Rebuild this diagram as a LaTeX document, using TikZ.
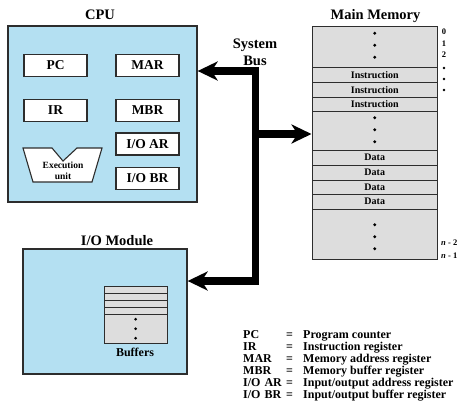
\documentclass[tikz,border=0pt]{standalone}
\usepackage{fontspec}
\setmainfont{Liberation Serif}
\usepackage{tikz}
\usetikzlibrary{arrows.meta, calc, matrix}

\definecolor{cpublue}{RGB}{180,224,242}
\definecolor{memgray}{RGB}{221,221,221}
\definecolor{edgegray}{RGB}{45,45,45}

\begin{document}
\begin{tikzpicture} [x=1pt, y=-1pt,
	box/.style={draw=edgegray, line width=1.3pt, fill=cpublue, inner sep=0pt},
	reg/.style={draw=edgegray, line width=1.1pt, fill=white, minimum width=63pt,
		minimum height=22pt, inner sep=0pt, font=\bfseries\fontsize{13.5}{15}\selectfont},
	title/.style={inner sep=0pt, font=\bfseries\fontsize{14.5}{17}\selectfont},
	cell/.style={draw=edgegray, line width=1.1pt, fill=memgray, inner sep=0pt,
		font=\bfseries\fontsize{10}{11}\selectfont},
	addr/.style={inner sep=0pt, font=\bfseries\fontsize{8.5}{9}\selectfont},
	keytext/.style={inner sep=0pt, text height=9pt, text depth=3pt,
		font=\bfseries\fontsize{12}{12}\selectfont},
	bus/.style={line width=7.5pt, line join=miter,
		{Stealth[length=20pt, width=19pt, inset=6pt]}-{Stealth[length=20pt, width=19pt, inset=6pt]}},
	busout/.style={line width=7.5pt, -{Stealth[length=20pt, width=19pt, inset=6pt]}}]
	%    frame of the picture
	\useasboundingbox (0,0) rectangle (468,418);
	
	% CPU
	\node[box, minimum width=189pt, minimum height=176pt] (cpu) at (102.5,114) {};
	\node[title] (cputitle) at (100,15) {CPU};
	\node[reg] (pc)   at (55.5,65.5)  {PC};
	\node[reg] (mar)  at (147.5,65.5) {MAR};
	\node[reg] (ir)   at (55.5,110.5) {IR};
	\node[reg] (mbr)  at (147.5,110.5) {MBR};
	\node[reg] (ioar) at (147.5,144)  {I/O AR};
	\node[reg] (iobr) at (147.5,178.5) {I/O BR};
	\draw[draw=edgegray, line width=1.1pt, fill=white] (23,148) -- (52,148) -- (63,161)
		-- (77,148) -- (102,148) -- (92,182) -- (33,182) -- cycle;
	\node[align=center, inner sep=0pt, font=\bfseries\fontsize{9.5}{11}\selectfont] (exec)
		at (63,171) {Execution\\unit};
	
	% I/O module
	\node[box, minimum width=164pt, minimum height=125pt] (io) at (105,311.5) {};
	\node[title] (iotitle) at (117,241) {I/O Module};
	\matrix(buf)[matrix of nodes, ampersand replacement=\&, anchor=north west,
		inner sep=0pt, row sep=-1pt, nodes in empty cells,
		nodes={cell, line width=1pt, minimum width=63pt, minimum height=7pt},
		row 5/.style={nodes={minimum height=29pt}}] at (103.5,285.5)
	{
		\\ \\ \\ \\ \\
	};
	\foreach \k in {-1,0,1}
		\fill ($(buf-5-1.center)+(0,\k*9.5)$) circle (1.5);
	\node[inner sep=0pt, font=\bfseries\fontsize{12}{13}\selectfont] (buftitle) at (135,352) {Buffers};
	
	% main memory
	\node[title] (memtitle) at (375.5,16) {Main Memory};
	\matrix(mem)[matrix of nodes, ampersand replacement=\&, anchor=north west,
		inner sep=0pt, row sep=-1.1pt, nodes in empty cells,
		nodes={cell, minimum width=125pt},
		row 1/.style={nodes={minimum height=41pt}},
		row 2/.style={nodes={minimum height=15pt}},
		row 3/.style={nodes={minimum height=15pt}},
		row 4/.style={nodes={minimum height=14pt}},
		row 5/.style={nodes={minimum height=39pt}},
		row 6/.style={nodes={minimum height=15pt}},
		row 7/.style={nodes={minimum height=15pt}},
		row 8/.style={nodes={minimum height=14pt}},
		row 9/.style={nodes={minimum height=15pt}},
		row 10/.style={nodes={minimum height=50pt}}] at (311.5,25.5)
	{
		\\
		Instruction \\
		Instruction \\
		Instruction \\
		\\
		Data \\
		Data \\
		Data \\
		Data \\
		\\
	};
	\foreach \r/\d in {1/-1.5, 5/-1, 10/2.5}
		\foreach \k in {-1,0,1}
			\fill ($(mem-\r-1.center)+(0,\k*12+\d)$) circle (1.7);
	
	% addresses
	\foreach \a [count=\i] in {0,1,2}
		\node[addr] (addr\a) at (444,20.5+\i*11.5) {\a};
	\foreach \k in {0,1,2}
		\fill (444,68+\k*11) circle (1.4);
	\node[addr, anchor=west] (addrn2) at (441,243) {\textit{n} - 2};
	\node[addr, anchor=west] (addrn1) at (441,256) {\textit{n} - 1};
	
	% system bus
	\node[title, align=center] (buslabel) at (255,52) {System\\Bus};
	\coordinate (bustop) at (255.5,71);
	\coordinate (busmid) at (255.5,134);
	\coordinate (busbot) at (255.5,281);
	\draw[bus] (bustop -| cpu.east) -- (bustop) -- (busbot) -- (busbot -| io.east);
	\draw[busout] (busmid) -- (busmid -| mem.west);
	
	% key
	\matrix(key)[matrix of nodes, ampersand replacement=\&, anchor=north west,
		inner sep=0pt, row sep=0pt, column sep=0pt,
		nodes={keytext, anchor=base west},
		column 1/.style={nodes={text width=43pt}},
		column 2/.style={nodes={text width=17pt}}] at (243,329)
	{
		PC \& = \& Program counter \\
		IR \& = \& Instruction register \\
		MAR \& = \& Memory address register \\
		MBR \& = \& Memory buffer register \\
		I/O AR \& = \& Input/output address register \\
		I/O BR \& = \& Input/output buffer register \\
	};
	
\end{tikzpicture}
\end{document}
